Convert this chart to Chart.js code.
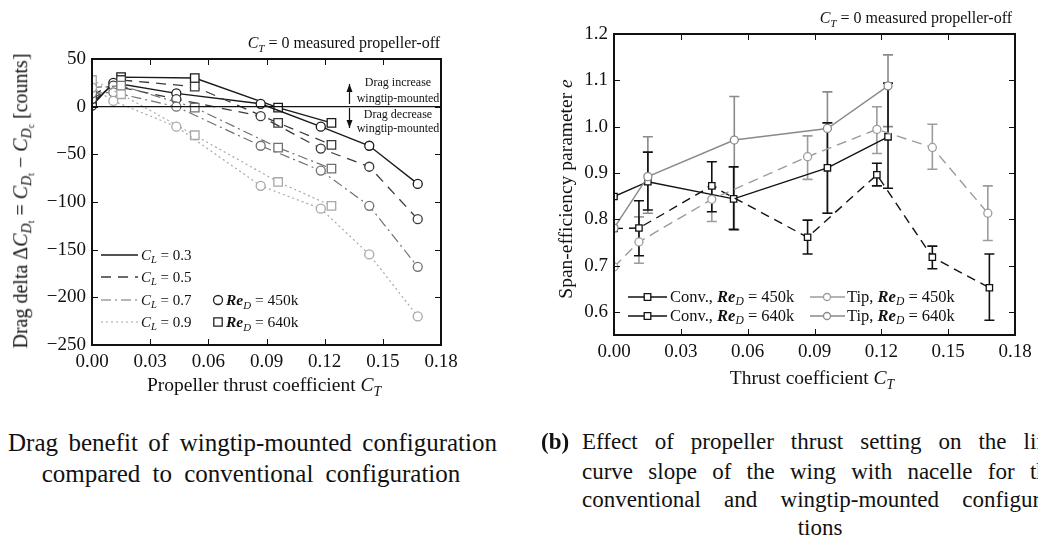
<!DOCTYPE html>
<html>
<head>
<meta charset="utf-8">
<script src="https://cdn.jsdelivr.net/npm/chart.js@4.4.0/dist/chart.umd.min.js"></script>
<style>
html, body { margin: 0; padding: 0; background: #fff; }
body { width: 1038px; height: 548px; overflow: hidden; position: relative;
       font-family: 'Liberation Serif', 'Times New Roman', serif; color: #111; }
canvas { position: absolute; top: 0; }
.t { position: absolute; white-space: nowrap; line-height: 1; }
.c { transform: translate(-50%, -50%); }
.l { transform: translate(0, -50%); }
.r { transform: translate(-100%, -50%); }
sub { font-size: 0.7em; vertical-align: -0.32em; line-height: 0; }
.cap { position: absolute; line-height: 1; white-space: nowrap; }
.capA { font-size: 25px; }
.capB { font-size: 23px; }
.just { text-align: justify; text-align-last: justify; white-space: normal; }
</style>
</head>
<body>
<canvas id="dragChart" width="520" height="400" style="left:0"></canvas>
<canvas id="spanChart" width="518" height="400" style="left:520px"></canvas>

<!-- panel (a) texts -->
<div class="t r" style="left:440px;top:43px;font-size:16px"><i>C<sub>T</sub></i> = 0 measured propeller-off</div>
<div class="t c" style="left:264px;top:385px;font-size:19.5px">Propeller thrust coefficient <i>C<sub>T</sub></i></div>
<div class="t" style="left:21px;top:201px;font-size:20px;transform:translate(-50%,-50%) rotate(-90deg)">Drag delta &Delta;<i>C</i><sub><i>D</i><sub>t</sub></sub> = <i>C</i><sub><i>D</i><sub>t</sub></sub> &minus; <i>C</i><sub><i>D</i><sub>c</sub></sub> [counts]</div>
<div class="t c" style="left:398px;top:82px;font-size:12px">Drag increase</div>
<div class="t c" style="left:398px;top:98px;font-size:12px">wingtip-mounted</div>
<div class="t c" style="left:398px;top:114px;font-size:12px">Drag decrease</div>
<div class="t c" style="left:398px;top:128px;font-size:12px">wingtip-mounted</div>
<div class="t l" style="left:141px;top:255px;font-size:15px"><i>C<sub>L</sub></i> = 0.3</div>
<div class="t l" style="left:141px;top:277px;font-size:15px"><i>C<sub>L</sub></i> = 0.5</div>
<div class="t l" style="left:141px;top:300px;font-size:15px"><i>C<sub>L</sub></i> = 0.7</div>
<div class="t l" style="left:141px;top:322px;font-size:15px"><i>C<sub>L</sub></i> = 0.9</div>
<div class="t l" style="left:226px;top:300px;font-size:15.5px"><b><i>Re</i></b><sub><i>D</i></sub> = 450k</div>
<div class="t l" style="left:226px;top:322px;font-size:15.5px"><b><i>Re</i></b><sub><i>D</i></sub> = 640k</div>

<!-- panel (b) texts -->
<div class="t r" style="left:1012px;top:18px;font-size:16px"><i>C<sub>T</sub></i> = 0 measured propeller-off</div>
<div class="t c" style="left:812px;top:378px;font-size:19.5px">Thrust coefficient <i>C<sub>T</sub></i></div>
<div class="t" style="left:566px;top:189px;font-size:19.5px;transform:translate(-50%,-50%) rotate(-90deg)">Span-efficiency parameter <i>e</i></div>
<div class="t l" style="left:670px;top:297px;font-size:16.5px">Conv., <b><i>Re</i></b><sub><i>D</i></sub> = 450k</div>
<div class="t l" style="left:670px;top:316px;font-size:16.5px">Conv., <b><i>Re</i></b><sub><i>D</i></sub> = 640k</div>
<div class="t l" style="left:847px;top:297px;font-size:16.5px">Tip, <b><i>Re</i></b><sub><i>D</i></sub> = 450k</div>
<div class="t l" style="left:847px;top:316px;font-size:16.5px">Tip, <b><i>Re</i></b><sub><i>D</i></sub> = 640k</div>

<!-- captions -->
<div class="cap capA" style="left:-36px;top:430px"><b>(a)</b></div>
<div class="cap capA just" style="left:8px;top:430px;width:489px">Drag benefit of wingtip-mounted configuration</div>
<div class="cap capA" style="left:8px;top:461px;width:486px;text-align:center;word-spacing:6px">compared to conventional configuration</div>
<div class="cap capB" style="left:541px;top:430px"><b>(b)</b></div>
<div class="cap capB just" style="left:582px;top:430px;width:476px">Effect of propeller thrust setting on the lift-</div>
<div class="cap capB just" style="left:582px;top:460px;width:476px">curve slope of the wing with nacelle for the</div>
<div class="cap capB just" style="left:582px;top:488px;width:476px">conventional and wingtip-mounted configura-</div>
<div class="cap capB" style="left:582px;top:516px;width:476px;text-align:center">tions</div>

<script>
// ---- panel (a): drag delta [counts] vs thrust coefficient ----
const ctRe450 = [0, 0.011, 0.0435, 0.087, 0.118, 0.143, 0.168];
const ctRe640 = [0, 0.015, 0.053, 0.096, 0.1235];
const dragCL03Re450 = [1, 25, 14, 3, -21, -41, -81];
const dragCL05Re450 = [8, 22, 8, -10, -44, -63, -118];
const dragCL07Re450 = [14, 15, 0, -41, -67, -104, -168];
const dragCL09Re450 = [20, 6, -21, -83, -107, -155, -220];
const dragCL03Re640 = [4, 31, 30, -1, -17];
const dragCL05Re640 = [12, 28, 21, -17, -40];
const dragCL07Re640 = [20, 22, -1, -43, -65];
const dragCL09Re640 = [28, 13, -30, -79, -104];
const dragTicks = [-250, -200, -150, -100, -50, 0, 50];

// ---- panel (b): span-efficiency parameter e ----
const ctConv450 = [0, 0.0112, 0.0439, 0.0869, 0.118, 0.1429, 0.1685];
const eConv450 = [0.78, 0.781, 0.872, 0.761, 0.896, 0.718, 0.652];
const eConv450Lo = [null, 0.721, 0.816, 0.725, 0.872, 0.693, 0.582];
const eConv450Hi = [null, 0.840, 0.924, 0.798, 0.921, 0.742, 0.725];
const ctConv640 = [0, 0.0152, 0.0537, 0.0958, 0.123];
const eConv640 = [0.849, 0.881, 0.844, 0.911, 0.978];
const eConv640Lo = [null, 0.820, 0.778, 0.813, 0.867];
const eConv640Hi = [null, 0.945, 0.913, 1.008, 1.094];
const ctTip450 = [0, 0.0112, 0.0439, 0.0869, 0.118, 0.1429, 0.1678];
const eTip450 = [0.697, 0.751, 0.843, 0.935, 0.994, 0.955, 0.813];
const eTip450Lo = [null, 0.705, 0.795, 0.886, 0.942, 0.908, 0.754];
const eTip450Hi = [null, 0.805, 0.870, 0.980, 1.043, 1.005, 0.872];
const ctTip640 = [0, 0.0152, 0.054, 0.0958, 0.123];
const eTip640 = [0.781, 0.892, 0.971, 0.996, 1.088];
const eTip640Lo = [null, 0.813, 0.777, 0.813, 1.000];
const eTip640Hi = [null, 0.978, 1.065, 1.075, 1.155];
const spanTicks = [0.6, 0.7, 0.8, 0.9, 1.0, 1.1, 1.2];

const ctTicks = [0, 0.03, 0.06, 0.09, 0.12, 0.15, 0.18];

const FONT = "'Liberation Serif', 'Times New Roman', serif";

// line styles per lift coefficient
const clStyles = {
    cl03: { color: '#1a1a1a', dash: [], width: 1.4 },
    cl05: { color: '#3a3a3a', dash: [10, 7], width: 1.3 },
    cl07: { color: '#707070', dash: [10, 4, 2, 4], width: 1.2 },
    cl09: { color: '#a8a8a8', dash: [2, 3], width: 1.2 }
};

function series(xs, ys, style, marker, size, extra) {
    return Object.assign({
        data: xs.map((x, i) => ({ x: x, y: ys[i] })),
        borderColor: style.color,
        borderDash: style.dash,
        borderWidth: style.width,
        pointStyle: marker,
        pointRadius: size,
        pointBorderColor: style.color,
        pointBackgroundColor: '#fff',
        pointBorderWidth: 1.3,
        tension: 0,
        fill: false
    }, extra || {});
}

// box frame with inward ticks on all four sides
const framePlugin = {
    id: 'frame',
    afterDraw(chart) {
        const { ctx, chartArea: a, scales } = chart;
        ctx.save();
        ctx.strokeStyle = '#111';
        ctx.lineWidth = 1;
        ctx.beginPath();
        scales.x.ticks.forEach(t => {
            const px = Math.round(scales.x.getPixelForValue(t.value)) + 0.5;
            ctx.moveTo(px, a.bottom); ctx.lineTo(px, a.bottom - 6);
            ctx.moveTo(px, a.top); ctx.lineTo(px, a.top + 6);
        });
        scales.y.ticks.forEach(t => {
            const py = Math.round(scales.y.getPixelForValue(t.value)) + 0.5;
            ctx.moveTo(a.left, py); ctx.lineTo(a.left + 6, py);
            ctx.moveTo(a.right, py); ctx.lineTo(a.right - 6, py);
        });
        ctx.stroke();
        ctx.lineWidth = 2;
        ctx.strokeRect(a.left, a.top, a.right - a.left, a.bottom - a.top);
        ctx.restore();
    }
};

// vertical error bars, read from dataset.errLo / dataset.errHi
const errorBarPlugin = {
    id: 'errorBars',
    beforeDatasetsDraw(chart) {
        const { ctx, scales } = chart;
        chart.data.datasets.forEach(ds => {
            if (!ds.errLo) return;
            ctx.save();
            ctx.strokeStyle = ds.borderColor;
            ctx.lineWidth = 1.6;
            ctx.beginPath();
            ds.data.forEach((p, i) => {
                if (ds.errLo[i] == null) return;
                const px = scales.x.getPixelForValue(p.x);
                const lo = scales.y.getPixelForValue(ds.errLo[i]);
                const hi = scales.y.getPixelForValue(ds.errHi[i]);
                ctx.moveTo(px, lo); ctx.lineTo(px, hi);
                ctx.moveTo(px - 5, lo); ctx.lineTo(px + 5, lo);
                ctx.moveTo(px - 5, hi); ctx.lineTo(px + 5, hi);
            });
            ctx.stroke();
            ctx.restore();
        });
    }
};

// legend samples, zero line and arrows (positions in canvas pixels)
const extrasPlugin = {
    id: 'extras',
    afterDraw(chart, args, opts) {
        const { ctx, chartArea: a, scales } = chart;
        ctx.save();
        if (opts.zeroLine) {
            const py = scales.y.getPixelForValue(0);
            ctx.strokeStyle = '#111';
            ctx.lineWidth = 1.3;
            ctx.beginPath(); ctx.moveTo(a.left, py); ctx.lineTo(a.right, py); ctx.stroke();
        }
        (opts.arrows || []).forEach(ar => {
            ctx.strokeStyle = '#111'; ctx.fillStyle = '#111'; ctx.lineWidth = 1.2;
            ctx.beginPath(); ctx.moveTo(ar.x, ar.y0); ctx.lineTo(ar.x, ar.y1); ctx.stroke();
            const d = ar.y1 < ar.y0 ? 1 : -1;
            ctx.beginPath();
            ctx.moveTo(ar.x, ar.y1);
            ctx.lineTo(ar.x - 3, ar.y1 + d * 8);
            ctx.lineTo(ar.x + 3, ar.y1 + d * 8);
            ctx.closePath(); ctx.fill();
        });
        (opts.items || []).forEach(it => {
            ctx.strokeStyle = it.color;
            ctx.lineWidth = it.width || 1.3;
            if (it.x1 != null) {
                ctx.setLineDash(it.dash || []);
                ctx.beginPath(); ctx.moveTo(it.x0, it.y); ctx.lineTo(it.x1, it.y); ctx.stroke();
                ctx.setLineDash([]);
            }
            if (it.marker) {
                ctx.fillStyle = '#fff';
                ctx.lineWidth = 1.3;
                ctx.beginPath();
                if (it.marker === 'circle') ctx.arc(it.mx, it.y, it.r, 0, Math.PI * 2);
                else ctx.rect(it.mx - it.r, it.y - it.r, it.r * 2, it.r * 2);
                ctx.fill(); ctx.stroke();
            }
        });
        ctx.restore();
    }
};

function linearX(axisHeight) {
    return {
        type: 'linear', min: 0, max: 0.18,
        afterBuildTicks: ax => { ax.ticks = ctTicks.map(v => ({ value: v })); },
        afterFit: ax => { ax.height = axisHeight; },
        grid: { display: false, drawTicks: false },
        border: { display: false },
        ticks: { padding: 6, color: '#111', font: { family: FONT, size: 19 },
                 callback: v => v.toFixed(2), maxRotation: 0 }
    };
}

// ---- chart (a) ----
const s = clStyles;
new Chart(document.getElementById('dragChart').getContext('2d'), {
    type: 'line',
    data: {
        datasets: [
            series(ctRe450, dragCL09Re450, s.cl09, 'circle', 4.5),
            series(ctRe640, dragCL09Re640, s.cl09, 'rect', 6),
            series(ctRe450, dragCL07Re450, s.cl07, 'circle', 4.5),
            series(ctRe640, dragCL07Re640, s.cl07, 'rect', 6),
            series(ctRe450, dragCL05Re450, s.cl05, 'circle', 4.5),
            series(ctRe640, dragCL05Re640, s.cl05, 'rect', 6),
            series(ctRe450, dragCL03Re450, s.cl03, 'circle', 4.5),
            series(ctRe640, dragCL03Re640, s.cl03, 'rect', 6)
        ]
    },
    options: {
        responsive: false,
        animation: false,
        devicePixelRatio: 1,
        layout: { padding: { left: 0, top: 59, right: 79, bottom: 25 } },
        scales: {
            x: linearX(30),
            y: {
                type: 'linear', min: -250, max: 50,
                afterBuildTicks: ax => { ax.ticks = dragTicks.map(v => ({ value: v })); },
                afterFit: ax => { ax.width = 92; },
                grid: { display: false, drawTicks: false },
                border: { display: false },
                ticks: { padding: 6, color: '#111', font: { family: FONT, size: 19 },
                         callback: v => (v < 0 ? '\u2212' + Math.abs(v) : String(v)) }
            }
        },
        plugins: {
            legend: { display: false },
            tooltip: { enabled: false },
            extras: {
                zeroLine: true,
                arrows: [{ x: 349.5, y0: 104, y1: 84 }, { x: 349.5, y0: 108, y1: 128 }],
                items: [
                    { x0: 101, x1: 138, y: 255, color: s.cl03.color, dash: s.cl03.dash, width: 1.4 },
                    { x0: 101, x1: 138, y: 277, color: s.cl05.color, dash: [10, 7], width: 1.3 },
                    { x0: 101, x1: 138, y: 300, color: s.cl07.color, dash: s.cl07.dash, width: 1.2 },
                    { x0: 101, x1: 138, y: 322, color: s.cl09.color, dash: s.cl09.dash, width: 1.2 },
                    { marker: 'circle', mx: 218, y: 300, r: 4.5, color: '#222' },
                    { marker: 'rect', mx: 218, y: 322, r: 4.2, color: '#222' }
                ]
            }
        }
    },
    plugins: [framePlugin, extrasPlugin]
});

// ---- chart (b) ----
const conv450 = { color: '#111', dash: [9, 6], width: 1.4 };
const conv640 = { color: '#111', dash: [], width: 1.4 };
const tip450 = { color: '#9c9c9c', dash: [10, 6], width: 1.4 };
const tip640 = { color: '#8a8a8a', dash: [], width: 1.4 };

new Chart(document.getElementById('spanChart').getContext('2d'), {
    type: 'line',
    data: {
        datasets: [
            series(ctTip450, eTip450, tip450, 'circle', 4, { errLo: eTip450Lo, errHi: eTip450Hi }),
            series(ctTip640, eTip640, tip640, 'circle', 4, { errLo: eTip640Lo, errHi: eTip640Hi }),
            series(ctConv450, eConv450, conv450, 'rect', 4.5, { errLo: eConv450Lo, errHi: eConv450Hi }),
            series(ctConv640, eConv640, conv640, 'rect', 4.5, { errLo: eConv640Lo, errHi: eConv640Hi })
        ]
    },
    options: {
        responsive: false,
        animation: false,
        devicePixelRatio: 1,
        layout: { padding: { left: 0, top: 34, right: 23, bottom: 35 } },
        scales: {
            x: linearX(30),
            y: {
                type: 'linear', min: 0.55, max: 1.2,
                afterBuildTicks: ax => { ax.ticks = spanTicks.map(v => ({ value: v })); },
                afterFit: ax => { ax.width = 94; },
                grid: { display: false, drawTicks: false },
                border: { display: false },
                ticks: { padding: 6, color: '#111', font: { family: FONT, size: 19 },
                         callback: v => v.toFixed(1) }
            }
        },
        plugins: {
            legend: { display: false },
            tooltip: { enabled: false },
            extras: {
                items: [
                    { x0: 108, x1: 147, y: 297, color: '#111', marker: 'rect', mx: 127.5, r: 3.3 },
                    { x0: 108, x1: 147, y: 316, color: '#111', marker: 'rect', mx: 127.5, r: 3.3 },
                    { x0: 290, x1: 325, y: 297, color: tip450.color, marker: 'circle', mx: 307, r: 3.5 },
                    { x0: 290, x1: 325, y: 316, color: tip640.color, marker: 'circle', mx: 307, r: 3.5 }
                ]
            }
        }
    },
    plugins: [errorBarPlugin, framePlugin, extrasPlugin]
});
</script>
</body>
</html>
